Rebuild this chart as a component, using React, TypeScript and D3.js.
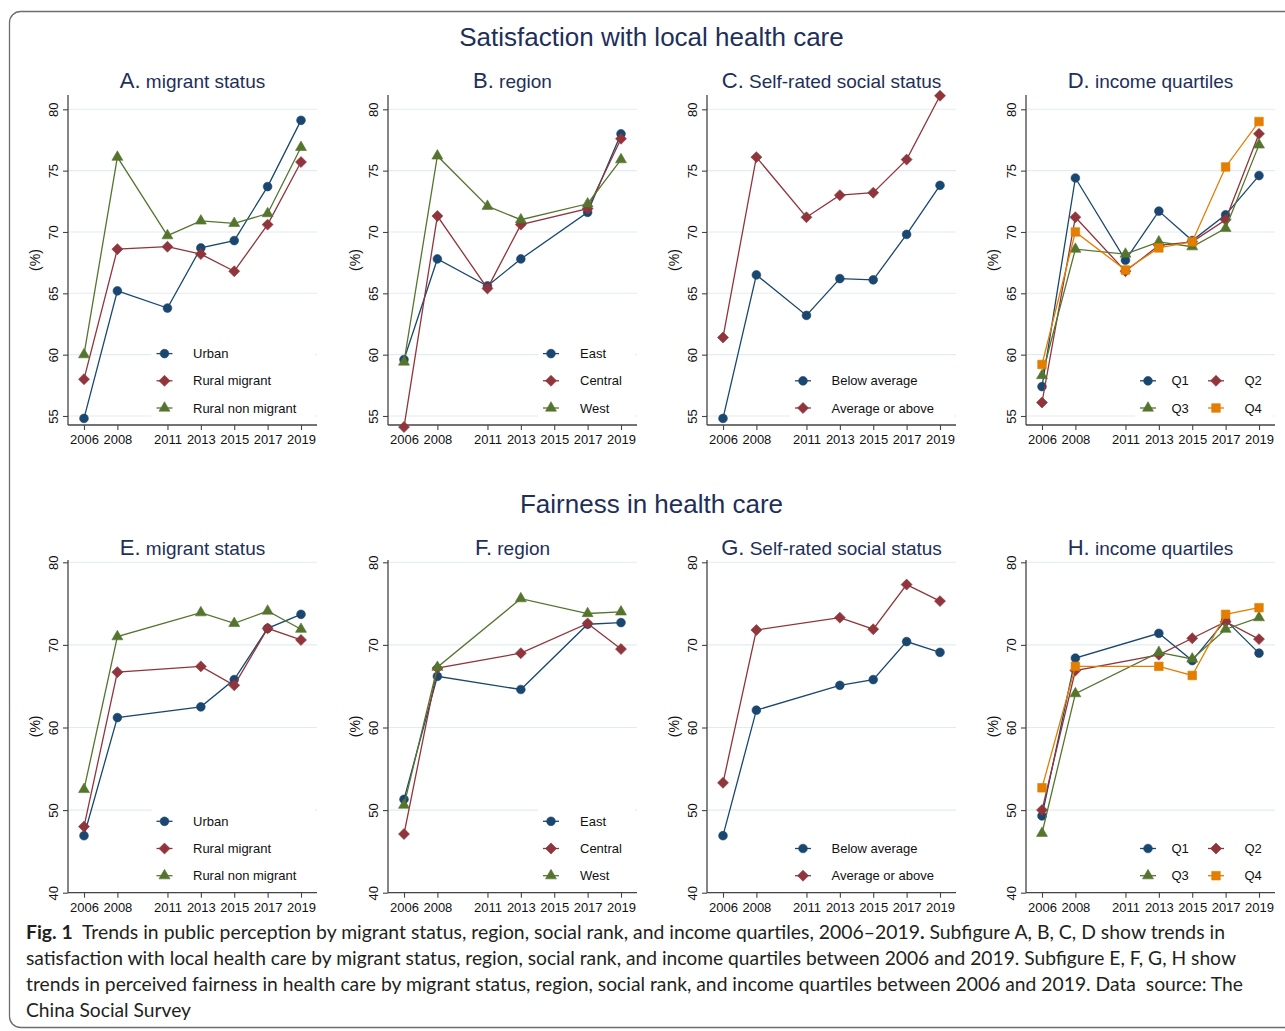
import { useEffect, useRef } from "react";
import * as d3 from "d3";

// x ticks shown on every panel
const yearTicks = [2006, 2008, 2011, 2013, 2015, 2017, 2019];

// survey years with data, per panel
const satisYears = [2006, 2008, 2011, 2013, 2015, 2017, 2019];
const satisRegionYears = [2006, 2008, 2011, 2013, 2017, 2019];
const fairYears = [2006, 2008, 2013, 2015, 2017, 2019];
const fairRegionYears = [2006, 2008, 2013, 2017, 2019];

const migrantGroups = ["Urban", "Rural migrant", "Rural non migrant"];
const regionGroups = ["East", "Central", "West"];
const statusGroups = ["Below average", "Average or above"];
const quartileGroups = ["Q1", "Q2", "Q3", "Q4"];

const satisTicks = [55, 60, 65, 70, 75, 80];
const fairTicks = [40, 50, 60, 70, 80];

// A. satisfaction by migrant status (%)
const satisMigrant = [
  [54.8, 65.2, 63.8, 68.7, 69.3, 73.7, 79.1],
  [58.0, 68.6, 68.8, 68.2, 66.8, 70.6, 75.7],
  [60.0, 76.1, 69.7, 70.9, 70.7, 71.5, 76.9],
];
// B. satisfaction by region
const satisRegion = [
  [59.6, 67.8, 65.6, 67.8, 71.6, 78.0],
  [54.1, 71.3, 65.4, 70.6, 71.9, 77.6],
  [59.4, 76.2, 72.1, 71.0, 72.3, 75.9],
];
// C. satisfaction by self-rated social status
const satisStatus = [
  [54.8, 66.5, 63.2, 66.2, 66.1, 69.8, 73.8],
  [61.4, 76.1, 71.2, 73.0, 73.2, 75.9, 81.1],
];
// D. satisfaction by income quartile
const satisQuartile = [
  [57.4, 74.4, 67.7, 71.7, 69.3, 71.4, 74.6],
  [56.1, 71.2, 66.8, 68.9, 69.2, 71.0, 78.0],
  [58.3, 68.6, 68.2, 69.2, 68.8, 70.3, 77.1],
  [59.2, 70.0, 66.9, 68.7, 69.2, 75.3, 79.0],
];
// E. fairness by migrant status
const fairMigrant = [
  [46.9, 61.2, 62.5, 65.8, 72.0, 73.7],
  [48.0, 66.7, 67.4, 65.1, 72.0, 70.6],
  [52.5, 71.0, 73.9, 72.6, 74.1, 71.9],
];
// F. fairness by region
const fairRegion = [
  [51.3, 66.2, 64.6, 72.5, 72.7],
  [47.1, 67.2, 69.0, 72.6, 69.5],
  [50.6, 67.3, 75.6, 73.8, 74.0],
];
// G. fairness by self-rated social status
const fairStatus = [
  [46.9, 62.1, 65.1, 65.8, 70.4, 69.1],
  [53.3, 71.8, 73.3, 71.9, 77.3, 75.3],
];
// H. fairness by income quartile
const fairQuartile = [
  [49.3, 68.4, 71.4, 68.1, 73.0, 69.0],
  [50.0, 66.9, 68.8, 70.8, 72.8, 70.7],
  [47.2, 64.1, 69.1, 68.3, 71.9, 73.3],
  [52.7, 67.4, 67.4, 66.3, 73.7, 74.5],
];

const captionLines = [
  [
    { t: "Fig. 1", b: true },
    { t: "  Trends in public perception by migrant status, region, social rank, and income quartiles, 2006\u20132019", b: false },
    { t: ".", b: true },
    { t: " Subfigure A, B, C, D show trends in", b: false },
  ],
  [{ t: "satisfaction with local health care by migrant status, region, social rank, and income quartiles between 2006 and 2019. Subfigure E, F, G, H show", b: false }],
  [{ t: "trends in perceived fairness in health care by migrant status, region, social rank, and income quartiles between 2006 and 2019. Data  source: The", b: false }],
  [{ t: "China Social Survey", b: false }],
];

const FONT = "'Liberation Sans', Arial, sans-serif";
const COLORS = ["#1a476f", "#90353b", "#55752f", "#e37e00"];
const TITLE = "#1e2f5a";
const AXIS = "#444";

// legend slots: [row from bottom, marker offset, label offset] relative to y axis
const legendSlots: Record<string, number[][]> = {
  migrant: [[2, 96.5, 125], [1, 96.5, 125], [0, 96.5, 125]],
  region: [[2, 163, 192], [1, 163, 192], [0, 163, 192]],
  status: [[1, 96, 124.5], [0, 96, 124.5]],
  quartile: [[1, 122, 145.5], [1, 190, 218.5], [0, 122, 145.5], [0, 190, 218.5]],
};

const colX = [68, 388, 707, 1026];
const rows = [
  { title: "Satisfaction with local health care", titleY: 46, subY: 88, domain: [55, 80], range: [416, 109.3], axisTop: 95, axisY: 425, ticks: satisTicks },
  { title: "Fairness in health care", titleY: 513, subY: 555, domain: [40, 80], range: [892.7, 562.3], axisTop: 560, axisY: 892.7, ticks: fairTicks },
];

const panels = [
  { row: 0, col: 0, letter: "A.", name: "migrant status", years: satisYears, series: satisMigrant, groups: migrantGroups, legend: "migrant" },
  { row: 0, col: 1, letter: "B.", name: "region", years: satisRegionYears, series: satisRegion, groups: regionGroups, legend: "region" },
  { row: 0, col: 2, letter: "C.", name: "Self-rated social status", years: satisYears, series: satisStatus, groups: statusGroups, legend: "status" },
  { row: 0, col: 3, letter: "D.", name: "income quartiles", years: satisYears, series: satisQuartile, groups: quartileGroups, legend: "quartile" },
  { row: 1, col: 0, letter: "E.", name: "migrant status", years: fairYears, series: fairMigrant, groups: migrantGroups, legend: "migrant" },
  { row: 1, col: 1, letter: "F.", name: "region", years: fairRegionYears, series: fairRegion, groups: regionGroups, legend: "region" },
  { row: 1, col: 2, letter: "G.", name: "Self-rated social status", years: fairYears, series: fairStatus, groups: statusGroups, legend: "status" },
  { row: 1, col: 3, letter: "H.", name: "income quartiles", years: fairYears, series: fairQuartile, groups: quartileGroups, legend: "quartile" },
];

function drawMarker(g: any, i: number, cx: number, cy: number) {
  const shapes = [
    { type: d3.symbolCircle, size: 60, rot: 0 },
    { type: d3.symbolSquare, size: 60, rot: 45 },
    { type: d3.symbolTriangle, size: 52, rot: 0 },
    { type: d3.symbolSquare, size: 74, rot: 0 },
  ];
  const s = shapes[i];
  g.append("path")
    .attr("d", d3.symbol().type(s.type).size(s.size)())
    .attr("transform", `translate(${cx},${cy}) rotate(${s.rot})`)
    .attr("fill", COLORS[i])
    .attr("stroke", COLORS[i])
    .attr("stroke-width", 0.6);
}

export default function App() {
  const svgRef = useRef<SVGSVGElement>(null);

  useEffect(() => {
    if (!svgRef.current) return;
    const svg = d3.select(svgRef.current);
    svg.selectAll("*").remove();

    svg.append("rect").attr("width", 1285).attr("height", 1031).attr("fill", "#fff");

    // outer frame
    svg.append("rect")
      .attr("x", 9.5).attr("y", 11.5)
      .attr("width", 1310).attr("height", 1016)
      .attr("rx", 11)
      .attr("fill", "none")
      .attr("stroke", "#6e6e6e")
      .attr("stroke-width", 1.3);

    rows.forEach((r) => {
      svg.append("text")
        .attr("x", 651.5).attr("y", r.titleY)
        .attr("text-anchor", "middle")
        .attr("font-family", FONT).attr("font-size", 26)
        .attr("fill", TITLE)
        .text(r.title);
    });

    panels.forEach((p) => {
      const r = rows[p.row];
      const ax = colX[p.col];
      const xEnd = ax + 249;
      const g = svg.append("g");
      const x = d3.scaleLinear().domain([2006, 2019]).range([ax + 16, ax + 233]);
      const y = d3.scaleLinear().domain(r.domain).range(r.range);

      // subtitle
      const sub = g.append("text")
        .attr("x", ax + 124.5).attr("y", r.subY)
        .attr("text-anchor", "middle")
        .attr("font-family", FONT)
        .attr("fill", TITLE);
      sub.append("tspan").attr("font-size", 22).text(p.letter);
      sub.append("tspan").attr("font-size", 19).text(" " + p.name);

      // grid
      g.selectAll(".grid")
        .data(r.ticks)
        .join("line")
        .attr("x1", ax).attr("x2", xEnd)
        .attr("y1", (d) => y(d)).attr("y2", (d) => y(d))
        .attr("stroke", "#e2ecef")
        .attr("stroke-width", 1.1);

      // y axis
      const yAxis = g.append("g")
        .attr("transform", `translate(${ax},0)`)
        .call(d3.axisLeft(y).tickValues(r.ticks).tickSize(5).tickFormat(d3.format("d")));
      yAxis.select(".domain").remove();
      yAxis.selectAll("line").attr("stroke", AXIS).attr("stroke-width", 1.1);
      yAxis.selectAll("text")
        .attr("font-family", FONT).attr("font-size", 13).attr("fill", "#111")
        .attr("transform", "rotate(-90)")
        .attr("x", 0).attr("y", -10.5).attr("dy", 0)
        .attr("text-anchor", "middle");

      // x axis
      const xAxis = g.append("g")
        .attr("transform", `translate(0,${r.axisY})`)
        .call(d3.axisBottom(x).tickValues(yearTicks).tickSize(5).tickPadding(5).tickFormat((d) => String(d)));
      xAxis.select(".domain").remove();
      xAxis.selectAll("line").attr("stroke", AXIS).attr("stroke-width", 1.1);
      xAxis.selectAll("text").attr("font-family", FONT).attr("font-size", 13).attr("fill", "#111");

      g.append("line")
        .attr("x1", ax).attr("x2", ax)
        .attr("y1", r.axisTop).attr("y2", r.axisY)
        .attr("stroke", AXIS).attr("stroke-width", 1.3);
      g.append("line")
        .attr("x1", ax).attr("x2", xEnd)
        .attr("y1", r.axisY).attr("y2", r.axisY)
        .attr("stroke", AXIS).attr("stroke-width", 1.3);

      // y title
      g.append("text")
        .attr("transform", `translate(${ax - 28},${(r.axisTop + r.axisY) / 2}) rotate(-90)`)
        .attr("text-anchor", "middle")
        .attr("font-family", FONT).attr("font-size", 14).attr("fill", "#111")
        .text("(%)");

      // series
      p.series.forEach((vals, i) => {
        const pts = p.years.map((yr, j) => [yr, vals[j]] as [number, number]);
        const line = d3.line<[number, number]>().x((d) => x(d[0])).y((d) => y(d[1]));
        g.append("path")
          .datum(pts)
          .attr("d", line)
          .attr("fill", "none")
          .attr("stroke", COLORS[i])
          .attr("stroke-width", 1.3);
        pts.forEach((d) => drawMarker(g, i, x(d[0]), y(d[1])));
      });

      // legend
      const slots = legendSlots[p.legend];
      const rowY = (k: number) => r.axisY - 17 - 27.2 * k;
      const minMarker = d3.min(slots, (s) => s[1])!;
      const maxRow = d3.max(slots, (s) => s[0])!;
      g.append("rect")
        .attr("x", ax + minMarker - 13)
        .attr("y", rowY(maxRow) - 13)
        .attr("width", xEnd - 2 - (ax + minMarker - 13))
        .attr("height", r.axisY - 4 - (rowY(maxRow) - 13))
        .attr("fill", "#fff");
      p.groups.forEach((name, i) => {
        const [k, mOff, lOff] = slots[i];
        const cy = rowY(k);
        g.append("line")
          .attr("x1", ax + mOff - 8).attr("x2", ax + mOff + 8)
          .attr("y1", cy).attr("y2", cy)
          .attr("stroke", COLORS[i]).attr("stroke-width", 1.3);
        drawMarker(g, i, ax + mOff, cy);
        g.append("text")
          .attr("x", ax + lOff).attr("y", cy).attr("dy", "0.36em")
          .attr("font-family", FONT).attr("font-size", 13).attr("fill", "#111")
          .text(name);
      });
    });

    // caption
    const capBase = [939, 965, 991, 1017];
    const capWidth = [1199, 1210, 1217, 165];
    captionLines.forEach((parts, li) => {
      const t = svg.append("text")
        .attr("x", 26).attr("y", capBase[li])
        .attr("font-family", "Lato, 'Open Sans', sans-serif")
        .attr("font-size", 19)
        .attr("fill", "#231f20")
        .attr("textLength", capWidth[li])
        .attr("lengthAdjust", "spacingAndGlyphs")
        .style("white-space", "pre");
      parts.forEach((part) => {
        t.append("tspan").attr("font-weight", part.b ? 700 : 400).text(part.t);
      });
    });
  }, []);

  return (
    <svg
      ref={svgRef}
      width={1285}
      height={1031}
      style={{ position: "absolute", left: 0, top: 0, display: "block" }}
    />
  );
}
